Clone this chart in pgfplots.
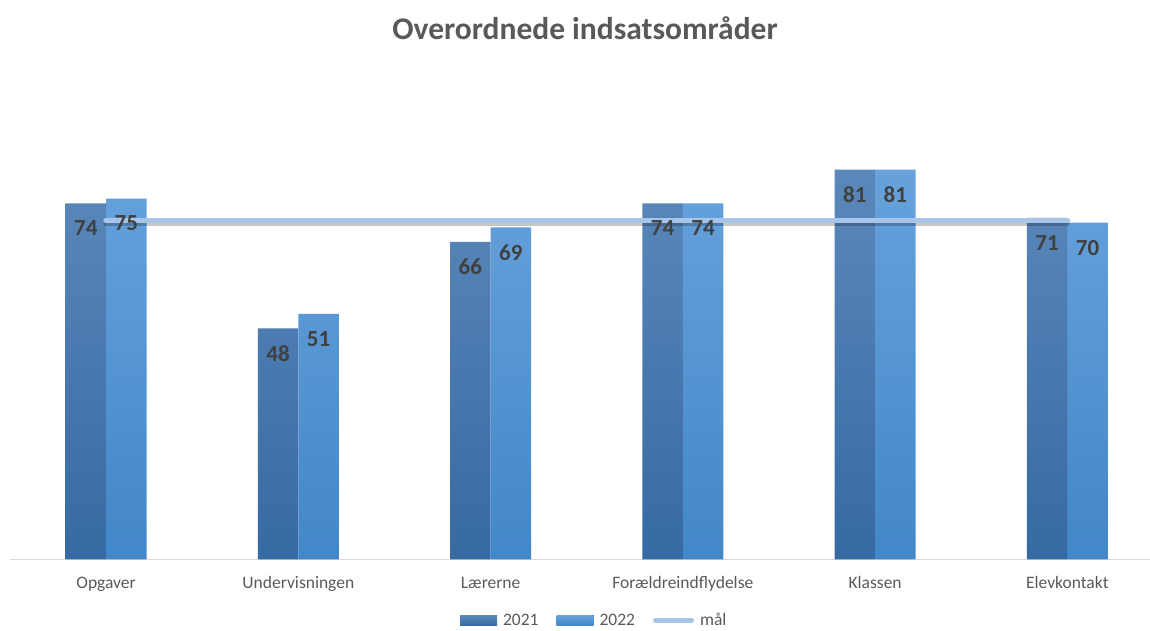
\documentclass[border=0pt]{standalone}
\usepackage{pgfplots}
\pgfplotsset{compat=1.18}
\usepackage{fontspec}
\setmainfont{Carlito}
\definecolor{c21t}{HTML}{5B88BA}
\definecolor{c21b}{HTML}{366AA3}
\definecolor{c22t}{HTML}{67A2DC}
\definecolor{c22b}{HTML}{4287C8}
\definecolor{goal}{HTML}{A8C4E8}
\definecolor{txt}{HTML}{595959}
\definecolor{lbl}{HTML}{404040}
\definecolor{axisc}{HTML}{D9D9D9}
\begin{document}
\begin{tikzpicture}[x=1pt,y=1pt]
\path[use as bounding box] (0,0) rectangle (1150,630);
\begin{axis}[at={(10pt,70.7pt)}, anchor=south west, scale only axis,
  width=1140pt, height=481pt,
  xmin=-0.5, xmax=5.43, ymin=0, ymax=100,
  axis x line*=bottom, hide y axis,
  x axis line style={draw=axisc, line width=1.2pt},
  xtick={0,...,5},
  xticklabels={Opgaver,Undervisningen,Lærerne,Forældreindflydelse,Klassen,Elevkontakt},
  major tick length=0pt,
  /pgf/number format/assume math mode=true,
  xticklabel style={font=\fontsize{17.5}{20}\selectfont, text=txt, anchor=base, yshift=-29pt},
  title={Overordnede indsatsområder},
  title style={at={(0.5044,1)}, anchor=center, yshift=44pt, font=\bfseries\fontsize{31.5}{36}\selectfont, text=txt},
  legend style={at={(0.5125,-0.127)}, anchor=center, draw=none, fill=none, legend columns=3,
    font=\fontsize{17.5}{20}\selectfont, text=txt, inner ysep=0pt,
    /tikz/every odd column/.append style={column sep=4pt},
    /tikz/every even column/.append style={column sep=16pt}},
  clip=false,
]
\addplot[ybar, bar width=40.5pt, bar shift=-20.25pt, draw=none, top color=c21t, bottom color=c21b,
  legend image code/.code={\fill[top color=c21t,bottom color=c21b] (0pt,-5pt) rectangle (37pt,5pt);}]
  coordinates {(0,74) (1,48) (2,66) (3,74) (4,81) (5,71)};
\addlegendentry{2021}
\addplot[ybar, bar width=40.5pt, bar shift=20.25pt, draw=none, top color=c22t, bottom color=c22b,
  legend image code/.code={\fill[top color=c22t,bottom color=c22b] (0pt,-5pt) rectangle (37pt,5pt);}]
  coordinates {(0,75) (1,51) (2,69) (3,74) (4,81) (5,70)};
\addlegendentry{2022}
\addplot[forget plot, black, opacity=0.22, line width=5pt, yshift=-3pt, line cap=round]
  coordinates {(0,70.4) (1,70.4) (2,70.4) (3,70.4) (4,70.4) (5,70.4)};
\addplot[goal, line width=5.5pt, line cap=round,
  legend image code/.code={\draw[goal, line width=5pt, line cap=round] (2pt,0pt) -- (38pt,0pt);}]
  coordinates {(0,70.4) (1,70.4) (2,70.4) (3,70.4) (4,70.4) (5,70.4)};
\addlegendentry{mål}
\addplot[forget plot, ybar, bar width=40.5pt, bar shift=-20.25pt, draw=none, fill=none,
  nodes near coords, nodes near coords style={anchor=center, xshift=-20.25pt, yshift=-25pt, font=\bfseries\fontsize{23}{26}\selectfont, text=lbl}]
  coordinates {(0,74) (1,48) (2,66) (3,74) (4,81) (5,71)};
\addplot[forget plot, ybar, bar width=40.5pt, bar shift=20.25pt, draw=none, fill=none,
  nodes near coords, nodes near coords style={anchor=center, xshift=20.25pt, yshift=-25pt, font=\bfseries\fontsize{23}{26}\selectfont, text=lbl}]
  coordinates {(0,75) (1,51) (2,69) (3,74) (4,81) (5,70)};
\end{axis}
\end{tikzpicture}
\end{document}
